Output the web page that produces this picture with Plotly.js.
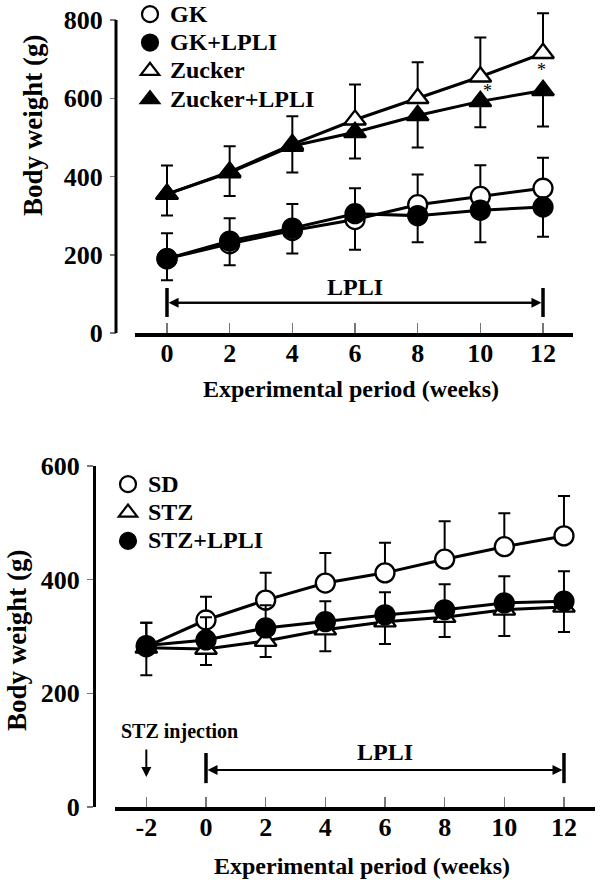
<!DOCTYPE html>
<html>
<head>
<meta charset="utf-8">
<script src="https://cdn.plot.ly/plotly-3.0.1.min.js"></script>
<style>html,body{margin:0;padding:0;background:#fff;}#chart{width:600px;height:880px;}</style>
</head>
<body>
<div id="chart"></div>
<script>
// ---------- Data: top panel (GK / Zucker) ----------
const weeksTop = [0, 2, 4, 6, 8, 10, 12];
const gk = [190, 228, 262, 290, 328, 349, 370];
const gkErrUp = [65, 65, 68, 0, 77, 80, 78];
const gkErrDown = [0, 0, 0, 77, 0, 0, 0];
const gkLpli = [190, 235, 268, 305, 300, 314, 322];
const gkLpliErrUp = [0, 0, 0, 65, 0, 0, 0];
const gkLpliErrDown = [55, 62, 65, 0, 68, 82, 76];
const zucker = [355, 412, 482, 545, 600, 655, 715];
const zuckerErrUp = [73, 65, 72, 90, 92, 100, 102];
const zuckerLpli = [355, 410, 478, 513, 556, 592, 620];
const zuckerLpliErrDown = [55, 60, 68, 67, 82, 66, 92];
const topTicks = [0, 2, 4, 6, 8, 10, 12];
const topYTicks = [0, 200, 400, 600, 800];

// ---------- Data: bottom panel (SD / STZ) ----------
const weeksBot = [-2, 0, 2, 4, 6, 8, 10, 12];
const sd = [282, 329, 364, 394, 412, 436, 458, 477];
const sdErrUp = [42, 41, 48, 53, 53, 67, 59, 70];
const stz = [280, 278, 292, 312, 326, 334, 347, 352];
const stzErrDown = [48, 28, 28, 38, 39, 35, 46, 44];
const stzLpli = [284, 294, 315, 326, 338, 347, 359, 362];
const stzLpliErrUp = [40, 40, 40, 36, 40, 45, 47, 53];
const botTicks = [-2, 0, 2, 4, 6, 8, 10, 12];
const botYTicks = [0, 200, 400, 600];

const SERIF = 'Liberation Serif, Times New Roman, serif';
const fnt = (s) => ({family: SERIF, size: s, color: '#000', weight: 'bold'});

function series(x, y, symbol, fill, eUp, eDown, xa, ya) {
  return {
    type: 'scatter', mode: 'lines+markers', x: x, y: y, xaxis: xa, yaxis: ya,
    showlegend: false, cliponaxis: false,
    line: {color: '#000', width: 3},
    marker: {symbol: symbol, size: 19,
             color: fill, line: {color: '#000', width: 2.3}},
    error_y: {type: 'data', symmetric: false, array: eUp, arrayminus: eDown,
              color: '#000', thickness: 2, width: 6}
  };
}
function legendItem(name, symbol, fill, legend) {
  return {
    type: 'scatter', mode: 'markers', x: [null], y: [null],
    name: '<span style="font-size:24px">' + name + '</span>',
    legend: legend, showlegend: true,
    marker: {symbol: symbol, size: 16, color: fill, line: {color: '#000', width: 2.2}}
  };
}
const zeros7 = weeksTop.map(() => 0);
const zeros8 = weeksBot.map(() => 0);

const data = [
  series(weeksTop, zucker, 'triangle-up', '#fff', zuckerErrUp, zeros7, 'x', 'y'),
  series(weeksTop, zuckerLpli, 'triangle-up', '#000', zeros7, zuckerLpliErrDown, 'x', 'y'),
  series(weeksTop, gk, 'circle', '#fff', gkErrUp, gkErrDown, 'x', 'y'),
  series(weeksTop, gkLpli, 'circle', '#000', gkLpliErrUp, gkLpliErrDown, 'x', 'y'),
  series(weeksBot, sd, 'circle', '#fff', sdErrUp, zeros8, 'x2', 'y2'),
  series(weeksBot, stz, 'triangle-up', '#fff', zeros8, stzErrDown, 'x2', 'y2'),
  series(weeksBot, stzLpli, 'circle', '#000', stzLpliErrUp, zeros8, 'x2', 'y2'),
  legendItem('GK', 'circle', '#fff', 'legend'),
  legendItem('GK+LPLI', 'circle', '#000', 'legend'),
  legendItem('Zucker', 'triangle-up', '#fff', 'legend'),
  legendItem('Zucker+LPLI', 'triangle-up', '#000', 'legend'),
  legendItem('SD', 'circle', '#fff', 'legend2'),
  legendItem('STZ', 'triangle-up', '#fff', 'legend2'),
  legendItem('STZ+LPLI', 'circle', '#000', 'legend2')
];

const W = 600, H = 880;
const px = (v) => v / W;
const py = (v) => 1 - v / H;

// top panel: 0 at 333px, 800 at 20px; plot area extended upward so tall error bars are not clipped
const TOP_Y0 = 333, TOP_PX_PER = (333 - 20) / 800, TOP_YMAX = 845;

function xAxis(domain, range, ticks, anchor) {
  return {
    domain: domain, range: range, anchor: anchor,
    showline: true, linecolor: '#000', linewidth: 3.5,
    showgrid: false, zeroline: false,
    tickmode: 'array', tickvals: ticks, ticktext: ticks.map(String),
    ticks: 'inside', ticklen: 10, tickwidth: 1.5, tickcolor: '#777',
    tickfont: fnt(26), ticklabelstandoff: -6
  };
}
function yAxis(domain, range, ticks, pos, line) {
  return {
    domain: domain, range: range, anchor: 'free', position: pos,
    showline: line, linecolor: '#000', linewidth: 3,
    showgrid: false, zeroline: false,
    tickmode: 'array', tickvals: ticks, ticktext: ticks.map(String),
    ticks: 'outside', ticklen: 6, tickwidth: 1.5, tickcolor: '#777',
    tickfont: fnt(26), ticklabelstandoff: 2
  };
}

function arrowPair(xr, yr, yv) {
  return [
    {xref: xr, yref: yr, axref: xr, ayref: yr, x: 0.05, y: yv, ax: 11.8, ay: yv, text: '',
     showarrow: true, arrowhead: 2, arrowsize: 1, arrowwidth: 2, arrowcolor: '#000'},
    {xref: xr, yref: yr, axref: xr, ayref: yr, x: 11.95, y: yv, ax: 0.2, ay: yv, text: '',
     showarrow: true, arrowhead: 2, arrowsize: 1, arrowwidth: 2, arrowcolor: '#000'}
  ];
}

const layout = {
  width: W, height: H,
  margin: {l: 0, r: 0, t: 0, b: 0, autoexpand: false},
  paper_bgcolor: '#fff', plot_bgcolor: 'rgba(0,0,0,0)',
  font: {family: SERIF, color: '#000'},
  xaxis: xAxis([px(135), px(573)], [-1.021, 12.957], topTicks, 'y'),
  yaxis: yAxis([py(TOP_Y0), py(TOP_Y0 - TOP_YMAX * TOP_PX_PER)], [0, TOP_YMAX], topYTicks, px(116), false),
  xaxis2: xAxis([px(115), px(595)], [-3.05, 13.04], botTicks, 'y2'),
  yaxis2: yAxis([py(807), py(466)], [0, 600], botYTicks, px(94), true),
  legend: {
    x: px(130), y: py(-5), xanchor: 'left', yanchor: 'top',
    bgcolor: 'rgba(0,0,0,0)', borderwidth: 0, font: fnt(19.5),
    itemclick: false, tracegroupgap: 0
  },
  legend2: {
    x: px(108), y: py(465), xanchor: 'left', yanchor: 'top',
    bgcolor: 'rgba(0,0,0,0)', borderwidth: 0, font: fnt(19.5),
    itemclick: false, tracegroupgap: 0
  },
  shapes: [
    // top panel y-axis line, 0 to 800
    {type: 'line', xref: 'paper', yref: 'y', x0: px(116), x1: px(116), y0: 0, y1: 800,
     line: {color: '#000', width: 3}, layer: 'above'},
    {type: 'line', xref: 'x', yref: 'y', x0: 0, x1: 0, y0: 41, y1: 115, line: {color: '#000', width: 3.5}},
    {type: 'line', xref: 'x', yref: 'y', x0: 12, x1: 12, y0: 41, y1: 115, line: {color: '#000', width: 3.5}},
    {type: 'line', xref: 'x2', yref: 'y2', x0: 0, x1: 0, y0: 42, y1: 95, line: {color: '#000', width: 3.5}},
    {type: 'line', xref: 'x2', yref: 'y2', x0: 12, x1: 12, y0: 42, y1: 95, line: {color: '#000', width: 3.5}}
  ],
  annotations: [
    {xref: 'paper', yref: 'paper', x: px(33), y: py(125), text: 'Body weight (g)', textangle: -90,
     showarrow: false, font: fnt(27), xanchor: 'center', yanchor: 'middle'},
    {xref: 'paper', yref: 'paper', x: px(351), y: py(389), text: 'Experimental period (weeks)',
     showarrow: false, font: fnt(24), xanchor: 'center', yanchor: 'middle'},
    {xref: 'paper', yref: 'paper', x: px(17), y: py(640), text: 'Body weight (g)', textangle: -90,
     showarrow: false, font: fnt(27), xanchor: 'center', yanchor: 'middle'},
    {xref: 'paper', yref: 'paper', x: px(362), y: py(866), text: 'Experimental period (weeks)',
     showarrow: false, font: fnt(24), xanchor: 'center', yanchor: 'middle'},
    ...arrowPair('x', 'y', 77),
    {xref: 'x', yref: 'y', x: 6, y: 117, text: 'LPLI', showarrow: false, font: fnt(24),
     xanchor: 'center', yanchor: 'middle'},
    {xref: 'x', yref: 'y', x: 10.22, y: 618, text: '*', showarrow: false,
     font: {family: SERIF, size: 18, color: '#000'}, xanchor: 'center', yanchor: 'middle'},
    {xref: 'x', yref: 'y', x: 11.95, y: 672, text: '*', showarrow: false,
     font: {family: SERIF, size: 18, color: '#000'}, xanchor: 'center', yanchor: 'middle'},
    ...arrowPair('x2', 'y2', 65),
    {xref: 'x2', yref: 'y2', x: 6, y: 97, text: 'LPLI', showarrow: false, font: fnt(24),
     xanchor: 'center', yanchor: 'middle'},
    {xref: 'x2', yref: 'y2', x: -0.9, y: 132, text: 'STZ injection', showarrow: false, font: fnt(20),
     xanchor: 'center', yanchor: 'middle'},
    {xref: 'x2', yref: 'y2', axref: 'x2', ayref: 'y2', x: -2, y: 53, ax: -2, ay: 104, text: '',
     showarrow: true, arrowhead: 2, arrowsize: 1, arrowwidth: 2, arrowcolor: '#000'}
  ]
};

Plotly.newPlot('chart', data, layout, {staticPlot: true, displayModeBar: false});
</script>
</body>
</html>
